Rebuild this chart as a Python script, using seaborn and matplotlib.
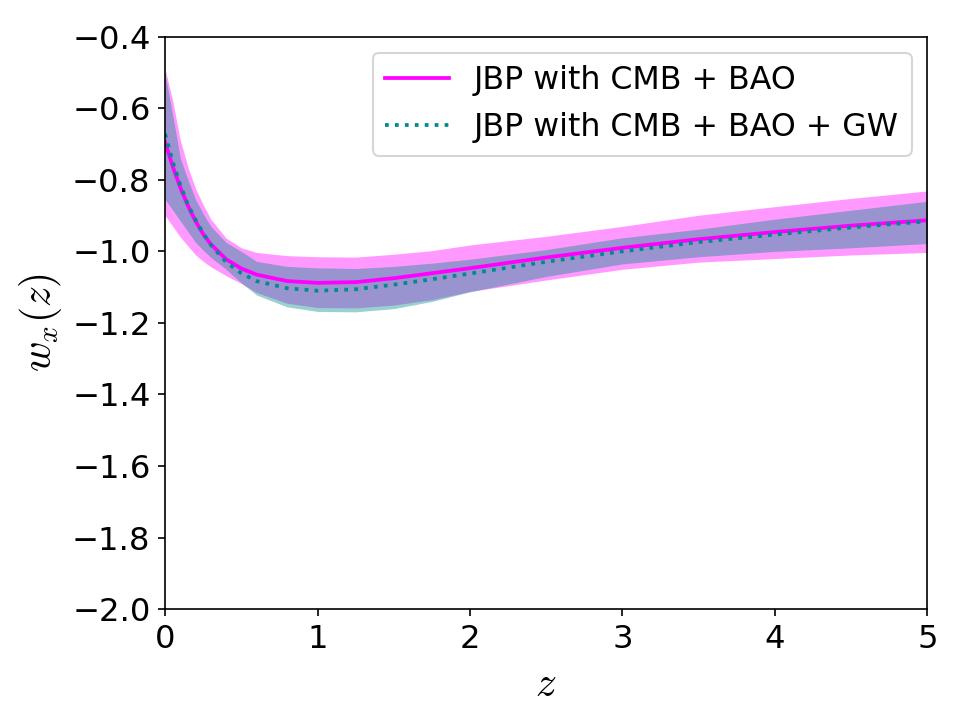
import numpy as np
import pandas as pd
import matplotlib
matplotlib.use("Agg")
import matplotlib.pyplot as plt
import seaborn as sns

# redshift grid
z = [0.0, 0.05, 0.1, 0.15, 0.2, 0.25, 0.3, 0.4, 0.5, 0.6, 0.8, 1.0,
     1.25, 1.5, 1.75, 2.0, 2.5, 3.0, 3.5, 4.0, 4.5, 5.0]

# JBP with CMB + BAO
w_cb = [-0.695, -0.763, -0.822, -0.873, -0.916, -0.952, -0.980, -1.022, -1.048, -1.065, -1.083, -1.088,
        -1.086, -1.075, -1.061, -1.047, -1.017, -0.990, -0.966, -0.946, -0.928, -0.913]
w_cb_hi = [-0.49, -0.58, -0.69, -0.765, -0.825, -0.87, -0.91, -0.963, -0.99, -1.003, -1.012, -1.015,
           -1.016, -1.008, -0.998, -0.982, -0.958, -0.93, -0.899, -0.875, -0.852, -0.831]
w_cb_lo = [-0.90, -0.93, -0.96, -0.985, -1.01, -1.028, -1.043, -1.068, -1.09, -1.115, -1.145, -1.157,
           -1.158, -1.15, -1.135, -1.112, -1.08, -1.05, -1.03, -1.02, -1.01, -1.003]

# JBP with CMB + BAO + GW
w_cbg = [-0.672, -0.750, -0.815, -0.870, -0.912, -0.950, -0.982, -1.030, -1.061, -1.083, -1.103, -1.110,
         -1.106, -1.093, -1.078, -1.062, -1.029, -1.000, -0.974, -0.953, -0.933, -0.916]
w_cbg_hi = [-0.505, -0.62, -0.74, -0.80, -0.855, -0.895, -0.93, -0.975, -1.0, -1.028, -1.042, -1.046,
            -1.048, -1.042, -1.033, -1.022, -0.995, -0.962, -0.938, -0.91, -0.885, -0.86]
w_cbg_lo = [-0.855, -0.885, -0.915, -0.945, -0.975, -0.997, -1.017, -1.05, -1.088, -1.122, -1.155, -1.168,
            -1.169, -1.16, -1.14, -1.113, -1.07, -1.035, -1.015, -1.0, -0.99, -0.978]

labels = ["JBP with CMB + BAO", "JBP with CMB + BAO + GW"]
xticks = [0, 1, 2, 3, 4, 5]
yticks = [-2.0, -1.8, -1.6, -1.4, -1.2, -1.0, -0.8, -0.6, -0.4]

plt.rcParams['mathtext.fontset'] = 'cm'
plt.rcParams['font.family'] = ['DejaVu Sans']

df1 = pd.DataFrame({"z": z, "w": w_cb})
df2 = pd.DataFrame({"z": z, "w": w_cbg})

fig = plt.figure(figsize=(6.4, 4.8), dpi=150)
ax = fig.add_axes([0.172, 0.154, 0.794, 0.795])

ax.fill_between(z, w_cb_lo, w_cb_hi, color="magenta", alpha=0.4, linewidth=0)
ax.fill_between(z, w_cbg_lo, w_cbg_hi, color="darkcyan", alpha=0.4, linewidth=0)

sns.lineplot(data=df1, x="z", y="w", ax=ax, color="magenta", linewidth=1.8,
             label=labels[0])
sns.lineplot(data=df2, x="z", y="w", ax=ax, color="darkcyan", linewidth=1.8,
             linestyle=":", label=labels[1])

ax.set_xlim(0, 5)
ax.set_ylim(-2.0, -0.4)
ax.set_xticks(xticks)
ax.set_yticks(yticks)
ax.tick_params(labelsize=15.5)
ax.set_xlabel("$z$", fontsize=20)
ax.set_ylabel("$w_x(z)$", fontsize=20)
ax.legend(loc="upper right", fontsize=15.2)

fig.savefig("out.png", dpi=150)
